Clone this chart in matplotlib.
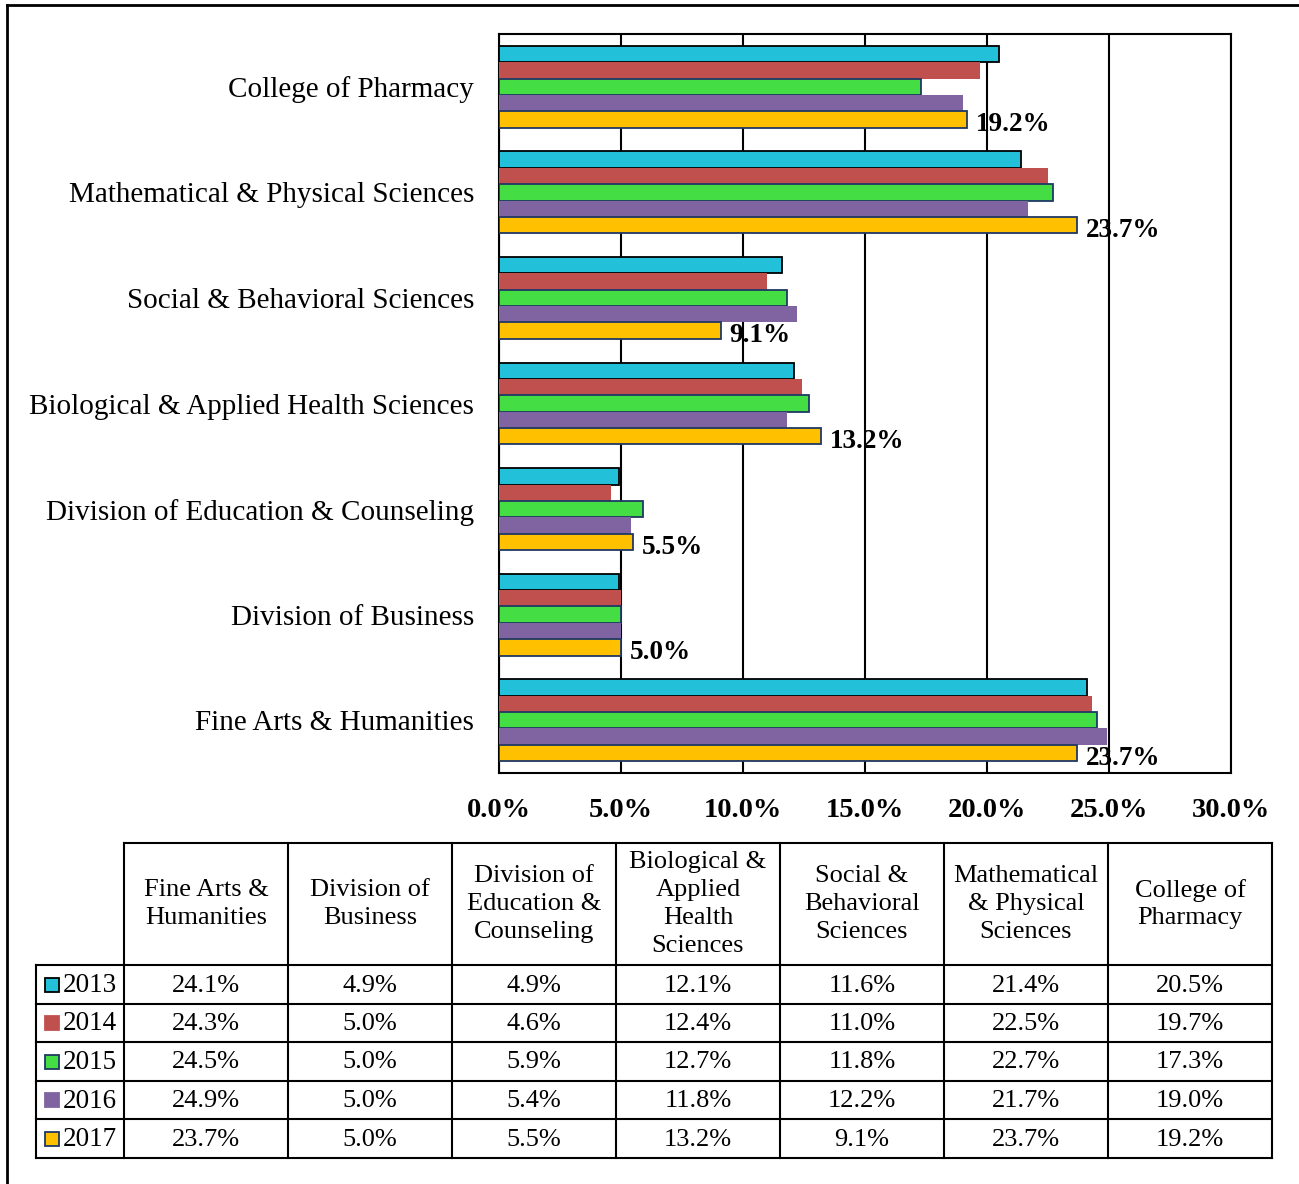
import matplotlib
matplotlib.use("Agg")
import matplotlib.pyplot as plt
from matplotlib.patches import Rectangle
import numpy as np

plt.rcParams['font.family'] = ['Liberation Serif', 'DejaVu Serif']

# data
categories = ["Fine Arts & Humanities", "Division of Business",
              "Division of Education & Counseling",
              "Biological & Applied Health Sciences",
              "Social & Behavioral Sciences",
              "Mathematical & Physical Sciences", "College of Pharmacy"]
table_headers = ["Fine Arts &\nHumanities", "Division of\nBusiness",
                 "Division of\nEducation &\nCounseling",
                 "Biological &\nApplied\nHealth\nSciences",
                 "Social &\nBehavioral\nSciences",
                 "Mathematical\n& Physical\nSciences", "College of\nPharmacy"]
years = ["2013", "2014", "2015", "2016", "2017"]
v2013 = [24.1, 4.9, 4.9, 12.1, 11.6, 21.4, 20.5]
v2014 = [24.3, 5.0, 4.6, 12.4, 11.0, 22.5, 19.7]
v2015 = [24.5, 5.0, 5.9, 12.7, 11.8, 22.7, 17.3]
v2016 = [24.9, 5.0, 5.4, 11.8, 12.2, 21.7, 19.0]
v2017 = [23.7, 5.0, 5.5, 13.2, 9.1, 23.7, 19.2]
series = [v2013, v2014, v2015, v2016, v2017]
colors = ["#22C1D9", "#C0504D", "#44DD44", "#8064A2", "#FFC000"]
edges = ["black", None, "#1F3864", None, "#1F3864"]

W, H = 1299, 1184
fig = plt.figure(figsize=(W / 100, H / 100), dpi=100)


def px_axes(x0, y0, x1, y1):
    return fig.add_axes([x0 / W, 1 - y1 / H, (x1 - x0) / W, (y1 - y0) / H])


# bar chart
ax = px_axes(499, 34, 1231, 773)
n = len(categories)
y = np.arange(n)
bh = 0.155
for i, (vals, c, e) in enumerate(zip(series, colors, edges)):
    off = (2 - i) * bh
    if e:
        ax.barh(y + off, vals, height=bh, color=c, edgecolor=e, linewidth=1.3, zorder=3)
    else:
        ax.barh(y + off, vals, height=bh, color=c, linewidth=0, zorder=3)
for yi, v in zip(y, v2017):
    ax.text(v + 0.35, yi - 2 * bh - 0.05, f"{v:.1f}%", fontsize=19.5, fontweight="bold",
            ha="left", va="center", zorder=5)
ax.set_xlim(0, 30)
ax.set_ylim(-0.5, n - 0.5)
ax.set_xticks(np.arange(0, 31, 5))
ax.set_xticklabels([f"{t:.1f}%" for t in np.arange(0, 31, 5)], fontsize=20.5, fontweight="bold")
ax.tick_params(axis="x", length=0, pad=18)
ax.set_yticks(y)
ax.set_yticklabels(categories, fontsize=21)
ax.tick_params(axis="y", length=0, pad=18)
ax.grid(axis="x", color="black", linewidth=1.5, zorder=0)
for s in ax.spines.values():
    s.set_color("black")
    s.set_linewidth(1.5)

# data table drawn in pixel space
tax = px_axes(0, 0, W, H)
tax.set_xlim(0, W)
tax.set_ylim(H, 0)
tax.axis("off")
tax.plot([7, 7], [5, H], color="black", lw=2)
tax.plot([7, W], [5, 5], color="black", lw=2)

col_x = [36] + [124 + 164 * k for k in range(8)]
row_y = [843, 965, 1004, 1042, 1081, 1119, 1158]
lw = 1.5
# horizontal lines
tax.plot([124, col_x[-1]], [row_y[0]] * 2, color="black", lw=lw)
for ry in row_y[1:]:
    tax.plot([col_x[0], col_x[-1]], [ry, ry], color="black", lw=lw)
# vertical lines
tax.plot([col_x[0]] * 2, [row_y[1], row_y[-1]], color="black", lw=lw)
for cx in col_x[1:]:
    tax.plot([cx, cx], [row_y[0], row_y[-1]], color="black", lw=lw)

for k, hdr in enumerate(table_headers):
    tax.text((col_x[k + 1] + col_x[k + 2]) / 2, (row_y[0] + row_y[1]) / 2, hdr,
             ha="center", va="center", fontsize=19, linespacing=1.35)
for r, (yr, vals, c, e) in enumerate(zip(years, series, colors, edges)):
    cy = (row_y[r + 1] + row_y[r + 2]) / 2
    tax.add_patch(Rectangle((45, cy - 7), 14, 14, facecolor=c,
                            edgecolor=e if e else c, lw=1.3))
    tax.text(63, cy + 1, yr, ha="left", va="center", fontsize=19.5)
    for k, v in enumerate(vals):
        tax.text((col_x[k + 1] + col_x[k + 2]) / 2, cy + 1, f"{v:.1f}%",
                 ha="center", va="center", fontsize=19)

fig.savefig("out.png", dpi=100)
